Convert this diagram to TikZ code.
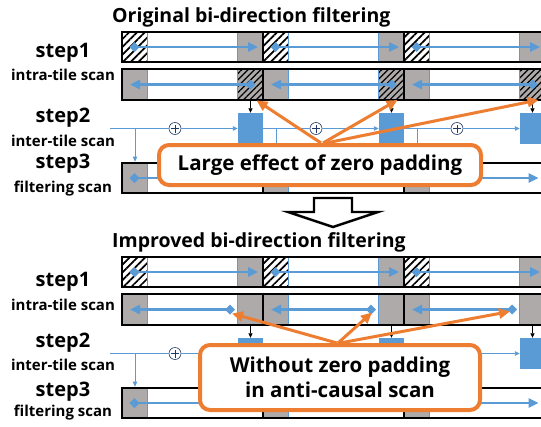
\documentclass[tikz,border=0pt]{standalone}
\usepackage{fontspec}
\setmainfont{Open Sans}
\usetikzlibrary{arrows.meta,patterns.meta}

\definecolor{scanblue}{HTML}{5B9BD5}
\definecolor{padgray}{HTML}{AEAAAA}
\definecolor{noteorange}{HTML}{ED7D31}
\definecolor{sumnavy}{HTML}{203864}

\begin{document}
\begin{tikzpicture}[x=1pt, y=-1pt]
  \tikzstyle{tile} = [rectangle, draw, line width=2.2pt, minimum width=141pt, minimum height=30.5pt, inner sep=0pt]
  \tikzstyle{pad} = [rectangle, fill=padgray, minimum width=25pt, minimum height=30.5pt, inner sep=0pt]
  \tikzstyle{zero} = [rectangle, pattern={Lines[angle=45, distance=5.5pt, line width=1.7pt]},
                      minimum width=25pt, minimum height=30.5pt, inner sep=0pt]
  \tikzstyle{zeropad} = [rectangle, preaction={fill=padgray}, pattern={Lines[angle=45, distance=4.5pt, line width=1.2pt]},
                         minimum width=25pt, minimum height=30.5pt, inner sep=0pt]
  \tikzstyle{carry} = [rectangle, fill=scanblue, minimum width=25pt, minimum height=31pt, inner sep=0pt]
  \tikzstyle{sum} = [circle, draw=sumnavy, fill=white, line width=0.6pt, minimum size=12pt, inner sep=0pt,
                     path picture={\draw[sumnavy, line width=0.6pt]
                       ([xshift=-4pt]path picture bounding box.center) -- ([xshift=4pt]path picture bounding box.center)
                       ([yshift=-4pt]path picture bounding box.center) -- ([yshift=4pt]path picture bounding box.center);}]
  \tikzstyle{edge} = [scanblue, line width=0.8pt]
  \tikzstyle{scan} = [scanblue, line width=2.4pt, {Diamond[length=10pt, width=10pt]}-{Triangle[length=10pt, width=9pt]}]
  \tikzstyle{link} = [scanblue, line width=0.9pt, -{Triangle[length=5pt, width=4.5pt]}]
  \tikzstyle{drop} = [black, line width=0.7pt, -{Triangle[length=4.5pt, width=4pt]}]
  \tikzstyle{note} = [rectangle, draw=noteorange, fill=white, line width=4pt, rounded corners=10pt, align=center,
                      inner sep=0pt, font=\fontsize{20.5}{25}\selectfont\bfseries]
  \tikzstyle{flag} = [noteorange, line width=3pt, -{Triangle[length=11pt, width=10pt]}]
  \tikzstyle{title} = [anchor=west, inner sep=0pt, font=\fontsize{19.5}{23}\selectfont\bfseries]
  \tikzstyle{steplabel} = [inner sep=0pt, font=\fontsize{20}{24}\selectfont\bfseries]
  \tikzstyle{sublabel} = [inner sep=0pt, font=\fontsize{15}{18}\selectfont\bfseries]

  \useasboundingbox (0,0) rectangle (541,426);
  \clip (0,0) rectangle (541,426);

  % titles and row labels
  \node[title] (orig-title) at (112,17) {Original bi-direction filtering};
  \node[title] (impr-title) at (112,242) {Improved bi-direction filtering};
  \node[steplabel] (orig-s1) at (63,53) {step1};
  \node[sublabel] (orig-s1t) at (63,75) {intra-tile scan};
  \node[steplabel] (orig-s2) at (63,118) {step2};
  \node[sublabel] (orig-s2t) at (63,141) {inter-tile scan};
  \node[steplabel] (orig-s3) at (63,164) {step3};
  \node[sublabel] (orig-s3t) at (63,189) {filtering scan};
  \node[steplabel] (impr-s1) at (63,282) {step1};
  \node[sublabel] (impr-s1t) at (63,305) {intra-tile scan};
  \node[steplabel] (impr-s2) at (63,343) {step2};
  \node[sublabel] (impr-s2t) at (63,365) {inter-tile scan};
  \node[steplabel] (impr-s3) at (63,392) {step3};
  \node[sublabel] (impr-s3t) at (63,413) {filtering scan};

  % three tiles per panel; the anti-causal scan differs in its last block and start
  \foreach \p/\oy/\last/\head in {orig/0/zeropad/128.5, impr/225/pad/108} {
    \foreach \i in {0,1,2} {
      \pgfmathsetmacro\xo{122+141*\i}
      \pgfmathtruncatemacro\j{\i-1}
      % step1: causal scan
      \node[zero] (\p-cz-\i) at (\xo+12.5, \oy+47) {};
      \node[pad] (\p-cp-\i) at (\xo+128.5, \oy+47) {};
      \draw[edge] (\p-cz-\i.north east) -- (\p-cz-\i.south east);
      \draw[edge] (\p-cp-\i.north west) -- (\p-cp-\i.south west);
      \node[tile] (\p-c-\i) at (\xo+70.5, \oy+47) {};
      \draw[scan] ([xshift=-5pt]\p-cz-\i.center) -- ([xshift=7.5pt]\p-cp-\i.center);
      % step1: anti-causal scan
      \node[pad] (\p-ag-\i) at (\xo+12.5, \oy+84.5) {};
      \node[\last] (\p-ap-\i) at (\xo+128.5, \oy+84.5) {};
      \draw[edge] (\p-ag-\i.north east) -- (\p-ag-\i.south east);
      \draw[edge] (\p-ap-\i.north west) -- (\p-ap-\i.south west);
      \node[tile] (\p-a-\i) at (\xo+70.5, \oy+84.5) {};
      \coordinate (\p-head-\i) at (\xo+\head, \oy+84.5);
      \draw[scan] ([xshift=5pt]\p-head-\i) -- ([xshift=-4.5pt]\p-ag-\i.center);
      % step2: inter-tile scan
      \node[carry] (\p-carry-\i) at (\xo+128.5, \oy+128.5) {};
      \node[sum] (\p-sum-\i) at (\xo+53, \oy+128.5) {};
      \ifnum\i=0
        \coordinate (\p-feed-\i) at (110, \oy+128.5);
      \else
        \coordinate (\p-feed-\i) at (\p-carry-\j.east);
      \fi
      \draw[link] (\p-feed-\i) -- (\p-sum-\i) -- (\p-carry-\i);
      \draw[drop] (\p-ap-\i.south) -- (\p-carry-\i.north);
      % step3: filtering scan
      \node[pad] (\p-fg-\i) at (\xo+12.5, \oy+178) {};
      \draw[edge] (\p-fg-\i.north east) -- (\p-fg-\i.south east);
      \node[tile] (\p-f-\i) at (\xo+70.5, \oy+178) {};
      \coordinate (\p-tap-\i) at (\xo+13, \oy+128.5);
      \draw[link] (\p-tap-\i) -- (\p-tap-\i |- \p-f-\i.north);
      \draw[scan] ([xshift=-5pt]\p-fg-\i.center) -- ([xshift=122pt]\p-fg-\i.center);
    }
  }

  % hollow arrow between the two panels
  \draw[fill=white, line width=2.4pt, line join=miter]
    (314,198) -- (352,198) -- (352,212) -- (378,212) -- (333,227) -- (288,212) -- (314,212) -- cycle;

  % callouts
  \node[note, minimum width=322pt, minimum height=40pt] (orig-note) at (320,165) {Large effect of zero padding};
  \draw[flag] ([xshift=1pt]orig-note.north) -- ([xshift=6pt]orig-ap-0.south);
  \draw[flag] ([xshift=3pt]orig-note.north) -- ([xshift=6pt]orig-ap-1.south);
  \draw[flag] ([xshift=6pt]orig-note.north) -- ([xshift=6pt]orig-ap-2.south);

  \node[note, minimum width=280pt, minimum height=65pt] (impr-note) at (340,377.5)
    {Without zero padding\\in anti-causal scan};
  \draw[flag] ([xshift=-3pt]impr-note.north) -- ([shift={(2,4)}]impr-head-0);
  \draw[flag] ([xshift=-2pt]impr-note.north) -- ([shift={(1,3)}]impr-head-1);
  \draw[flag] (impr-note.north) -- ([shift={(-2,2)}]impr-head-2);
\end{tikzpicture}
\end{document}
